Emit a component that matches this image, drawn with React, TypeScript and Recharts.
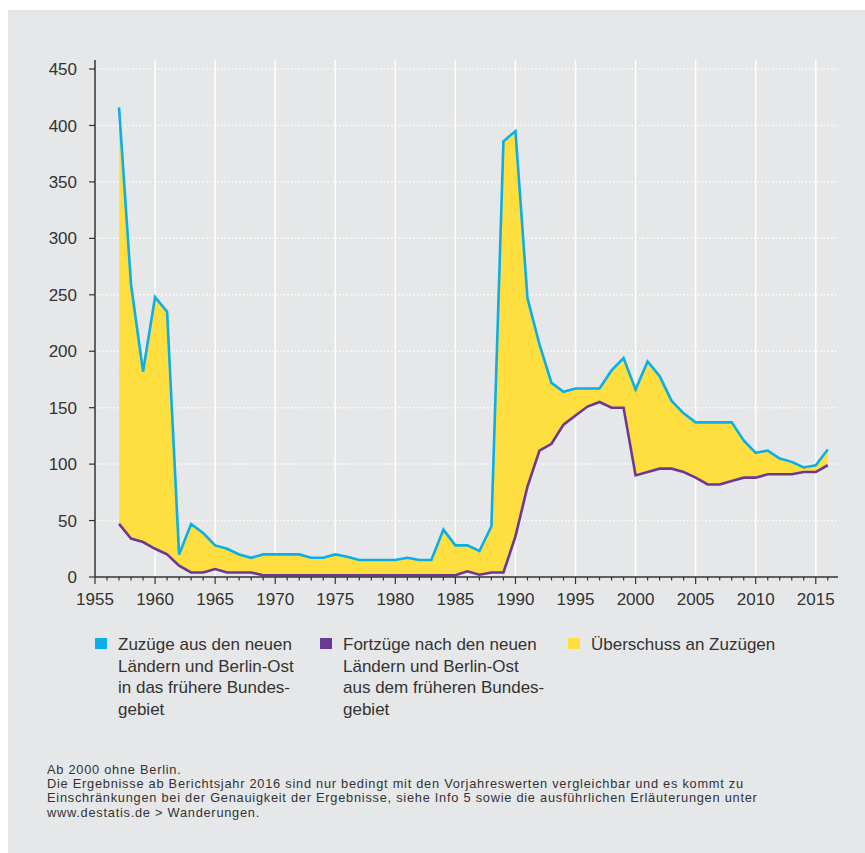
import React from "react"
import { ComposedChart, Area, Line, XAxis, YAxis, CartesianGrid } from "recharts"

// Zu- und Fortzüge zwischen früherem Bundesgebiet und neuen Ländern, in Tausend
const years = [
  1957, 1958, 1959, 1960, 1961, 1962, 1963, 1964, 1965, 1966, 1967, 1968, 1969, 1970,
  1971, 1972, 1973, 1974, 1975, 1976, 1977, 1978, 1979, 1980, 1981, 1982, 1983, 1984,
  1985, 1986, 1987, 1988, 1989, 1990, 1991, 1992, 1993, 1994, 1995, 1996, 1997, 1998,
  1999, 2000, 2001, 2002, 2003, 2004, 2005, 2006, 2007, 2008, 2009, 2010, 2011, 2012,
  2013, 2014, 2015, 2016,
]
const zuzuege = [
  416, 259, 182, 248, 235, 20, 47, 39, 28, 25, 20, 17, 20, 20,
  20, 20, 17, 17, 20, 18, 15, 15, 15, 15, 17, 15, 15, 42,
  28, 28, 23, 45, 386, 395, 247, 206, 172, 164, 167, 167, 167, 183,
  194, 166, 191, 178, 156, 145, 137, 137, 137, 137, 121, 110, 112, 105,
  102, 97, 99, 113,
]
const fortzuege = [
  47, 34, 31, 25, 20, 10, 4, 4, 7, 4, 4, 4, 1.5, 1.5,
  1.5, 1.5, 1.5, 1.5, 1.5, 1.5, 1.5, 1.5, 1.5, 1.5, 1.5, 1.5, 1.5, 1.5,
  1.5, 5, 2, 4, 4, 36, 80, 112, 118, 135, 143, 151, 155, 150,
  150, 90, 93, 96, 96, 93, 88, 82, 82, 85, 88, 88, 91, 91,
  91, 93, 93, 99,
]
const yTicks = [0, 50, 100, 150, 200, 250, 300, 350, 400, 450]
const labelYears = [1955, 1960, 1965, 1970, 1975, 1980, 1985, 1990, 1995, 2000, 2005, 2010, 2015]
const yearTicks = Array.from({ length: 62 }, (_, i) => 1955 + i)

const BLUE = "#0aaee8"
const PURPLE = "#6b3896"
const YELLOW = "#ffdf3f"
const BG = "#e6e7e8"
const TEXT = "#333333"
const FONT = "'Liberation Sans', Arial, Helvetica, sans-serif"

const data = years.map((year, i) => ({
  year,
  zu: zuzuege[i],
  fort: fortzuege[i],
  band: [fortzuege[i], zuzuege[i]],
}))

function YearTick(props: any) {
  const { x, y, payload } = props
  const yr = payload.value
  const major = labelYears.includes(yr)
  return (
    <g>
      <line x1={x} x2={x} y1={y} y2={y + (major ? 7 : 3.5)} stroke={TEXT} strokeWidth={1.2} />
      {major && (
        <text x={x} y={y + 28} textAnchor="middle" fontSize={17} fill={TEXT} fontFamily={FONT}>
          {yr}
        </text>
      )}
    </g>
  )
}

const legendItems = [
  { color: BLUE, left: 87, lines: ["Zuzüge aus den neuen", "Ländern und Berlin-Ost", "in das frühere Bundes-", "gebiet"] },
  { color: PURPLE, left: 312, lines: ["Fortzüge nach den neuen", "Ländern und Berlin-Ost", "aus dem früheren Bundes-", "gebiet"] },
  { color: YELLOW, left: 560, lines: ["Überschuss an Zuzügen"] },
]

const notes = [
  "Ab 2000 ohne Berlin.",
  "Die Ergebnisse ab Berichtsjahr 2016 sind nur bedingt mit den Vorjahreswerten vergleichbar und es kommt zu",
  "Einschränkungen bei der Genauigkeit der Ergebnisse, siehe Info 5 sowie die ausführlichen Erläuterungen unter",
  "www.destatis.de > Wanderungen.",
]

export default function App() {
  return (
    <div
      style={{
        position: "absolute",
        left: 8,
        top: 10,
        width: 857,
        height: 843,
        background: BG,
        fontFamily: FONT,
        color: TEXT,
      }}
    >
      <ComposedChart
        width={857}
        height={620}
        data={data}
        margin={{ top: 50, right: 27, bottom: 23, left: 0 }}
        style={{ position: "absolute", left: 0, top: 0 }}
      >
        <CartesianGrid
          horizontal={true}
          vertical={false}
          horizontalValues={yTicks.slice(1)}
          stroke="#ffffff"
          strokeWidth={1.5}
          strokeDasharray="1.5 2.2"
        />
        <CartesianGrid
          horizontal={false}
          vertical={true}
          verticalValues={labelYears.slice(1)}
          stroke="#ffffff"
          strokeWidth={1.5}
        />
        <XAxis
          dataKey="year"
          type="number"
          domain={[1955, 2016.85]}
          ticks={yearTicks}
          interval={0}
          tick={<YearTick />}
          tickLine={false}
          tickSize={0}
          tickMargin={0}
          height={30}
          axisLine={{ stroke: TEXT, strokeWidth: 1.5 }}
          allowDataOverflow
        />
        <YAxis
          type="number"
          domain={[0, 458]}
          ticks={yTicks}
          interval={0}
          width={87}
          tickSize={6}
          tickMargin={12}
          tickLine={{ stroke: TEXT, strokeWidth: 1.2 }}
          axisLine={{ stroke: TEXT, strokeWidth: 1.5 }}
          tick={{ fill: TEXT, fontSize: 17, fontFamily: FONT }}
          allowDataOverflow
        />
        <Area
          type="linear"
          dataKey="band"
          fill={YELLOW}
          fillOpacity={1}
          stroke="none"
          isAnimationActive={false}
        />
        <Line type="linear" dataKey="fort" stroke={PURPLE} strokeWidth={2.6} dot={false} isAnimationActive={false} />
        <Line type="linear" dataKey="zu" stroke={BLUE} strokeWidth={2.6} dot={false} isAnimationActive={false} />
      </ComposedChart>

      {legendItems.map((item) => (
        <div key={item.color} style={{ position: "absolute", left: item.left, top: 624 }}>
          <div
            style={{ position: "absolute", left: 0, top: 4, width: 12, height: 11, background: item.color }}
          />
          <div style={{ marginLeft: 23, fontSize: 17, lineHeight: "21.7px", whiteSpace: "nowrap" }}>
            {item.lines.map((l) => (
              <div key={l}>{l}</div>
            ))}
          </div>
        </div>
      ))}

      <div
        style={{
          position: "absolute",
          left: 39,
          top: 753,
          fontSize: 12.8,
          letterSpacing: "0.75px",
          lineHeight: "14.2px",
          whiteSpace: "nowrap",
        }}
      >
        {notes.map((n) => (
          <div key={n}>{n}</div>
        ))}
      </div>
    </div>
  )
}
